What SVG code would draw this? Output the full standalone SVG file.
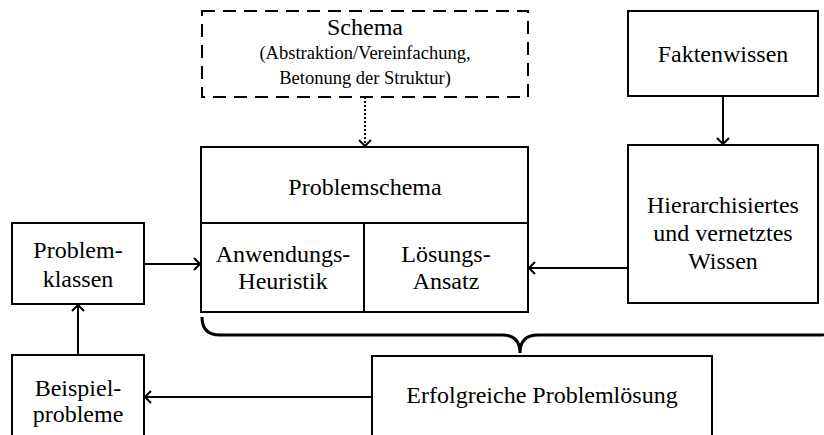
<svg xmlns="http://www.w3.org/2000/svg" width="824" height="435" viewBox="0 0 824 435">
<style>
.box{fill:#fff;stroke:#000;stroke-width:2}
.dash{fill:#fff;stroke:#000;stroke-width:2;stroke-dasharray:13,8}
.ln{fill:none;stroke:#000;stroke-width:2}
.dot{fill:none;stroke:#000;stroke-width:2;stroke-dasharray:2,2}
.brace{fill:none;stroke:#000;stroke-width:3}
text{font-family:"Liberation Serif","Times New Roman",serif;font-size:24px;fill:#000;text-anchor:middle}
.sm{font-size:18.5px}
</style>
<defs>
<marker id="ah" markerUnits="userSpaceOnUse" markerWidth="16" markerHeight="16" refX="8" refY="8" orient="auto" overflow="visible">
<path d="M2,2 L8,8 L2,14" fill="none" stroke="#000" stroke-width="2"/>
</marker>
</defs>
<g id="connectors">
<line class="dot" x1="365" y1="97" x2="365" y2="146" marker-end="url(#ah)"/>
<line class="ln" x1="723" y1="96" x2="723" y2="144" marker-end="url(#ah)"/>
<line class="ln" x1="628" y1="268" x2="529" y2="268" marker-end="url(#ah)"/>
<line class="ln" x1="144" y1="264" x2="200" y2="264" marker-end="url(#ah)"/>
<line class="ln" x1="78" y1="355" x2="78" y2="305" marker-end="url(#ah)"/>
<line class="ln" x1="372" y1="397" x2="145" y2="397" marker-end="url(#ah)"/>
<path class="brace" d="M202,317 Q202,335 220,335 L502,335 Q520,335 520,353 Q520,335 538,335 L820,335 Q838,335 838,317"/>
</g>
<g id="schema">
<rect class="dash" x="202" y="11" width="326" height="86"/>
<text x="365" y="35">Schema</text>
<text class="sm" x="365" y="59">(Abstraktion/Vereinfachung,</text>
<text class="sm" x="365" y="84">Betonung der Struktur)</text>
</g>
<g id="faktenwissen">
<rect class="box" x="628" y="11" width="190" height="85"/>
<text x="723" y="62">Faktenwissen</text>
</g>
<g id="problemschema">
<rect class="box" x="201" y="147" width="327" height="165"/>
<line class="ln" x1="201" y1="223" x2="528" y2="223"/>
<line class="ln" x1="364" y1="223" x2="364" y2="312"/>
<text x="365" y="195">Problemschema</text>
</g>
<g id="anwendungs-heuristik">
<text x="283" y="262">Anwendungs-</text>
<text x="283" y="289">Heuristik</text>
</g>
<g id="loesungs-ansatz">
<text x="446" y="262">Lösungs-</text>
<text x="446" y="289">Ansatz</text>
</g>
<g id="hierarchisiertes">
<rect class="box" x="628" y="145" width="190" height="158"/>
<text x="723" y="213">Hierarchisiertes</text>
<text x="723" y="241">und vernetztes</text>
<text x="723" y="269">Wissen</text>
</g>
<g id="problemklassen">
<rect class="box" x="12" y="223" width="132" height="81"/>
<text x="78" y="258">Problem-</text>
<text x="78" y="287">klassen</text>
</g>
<g id="beispielprobleme">
<rect class="box" x="12" y="355" width="132" height="100"/>
<text x="78" y="396">Beispiel-</text>
<text x="78" y="422">probleme</text>
</g>
<g id="erfolgreiche">
<rect class="box" x="372" y="356" width="340" height="100"/>
<text x="542" y="403">Erfolgreiche Problemlösung</text>
</g>
</svg>
